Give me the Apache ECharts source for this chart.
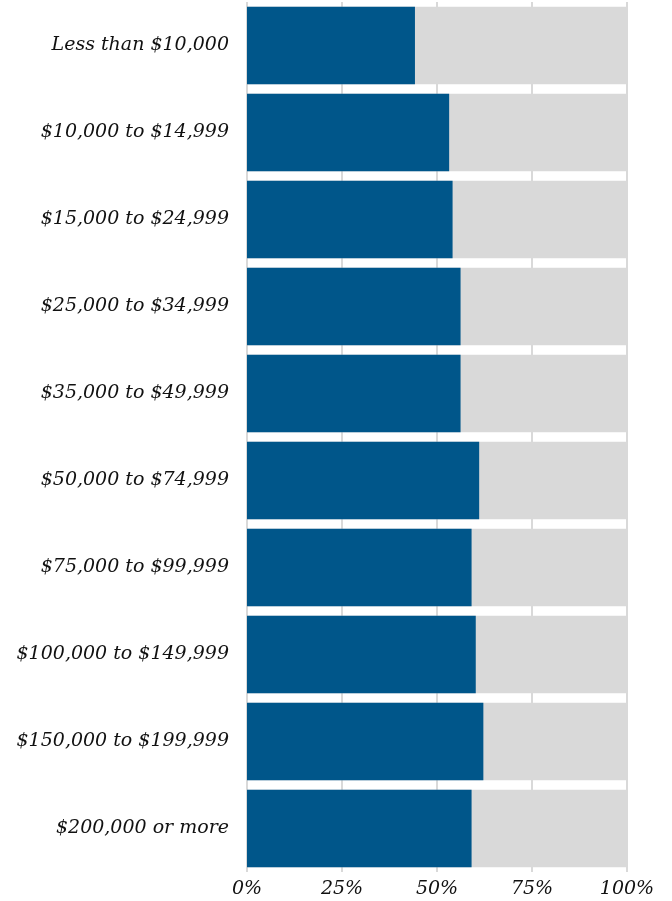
<!DOCTYPE html>
<html><head><meta charset="utf-8">
<script src="https://cdn.jsdelivr.net/npm/echarts@6/dist/echarts.min.js"></script>
<style>html,body{margin:0;padding:0;background:#fff}#c{width:672px;height:901px}</style>
</head><body><div id="c"></div>
<script>
const categories = ["Less than $10,000","$10,000 to $14,999","$15,000 to $24,999","$25,000 to $34,999","$35,000 to $49,999","$50,000 to $74,999","$75,000 to $99,999","$100,000 to $149,999","$150,000 to $199,999","$200,000 or more"];
const shares = [44.2, 53.2, 54.1, 56.2, 56.2, 61.1, 59.1, 60.2, 62.2, 59.1];
const xTicks = [0, 25, 50, 75, 100];
const font = "'DejaVu Serif', serif";
const chart = echarts.init(document.getElementById('c'), null, {renderer:'canvas'});
chart.setOption({
  animation:false,
  grid:{left:247,right:45,top:2,bottom:29,containLabel:false},
  xAxis:{type:'value',min:0,max:100,interval:25,
    axisLine:{show:false},axisTick:{show:false},
    splitLine:{show:true,lineStyle:{color:'#cccccc',width:1.5}},
    axisLabel:{formatter:v=>xTicks.includes(v)?v+'%':'',fontFamily:font,fontStyle:'italic',fontSize:19,color:'#111',margin:8}},
  yAxis:{type:'category',data:categories,inverse:true,
    axisLine:{show:false},axisTick:{show:false},
    axisLabel:{fontFamily:font,fontStyle:'italic',fontSize:19,color:'#111',margin:18}},
  series:[{type:'bar',data:shares,barCategoryGap:'11.1%',
    itemStyle:{color:'#00568a'},
    showBackground:true,backgroundStyle:{color:'#d9d9d9'}}]
});
</script></body></html>
